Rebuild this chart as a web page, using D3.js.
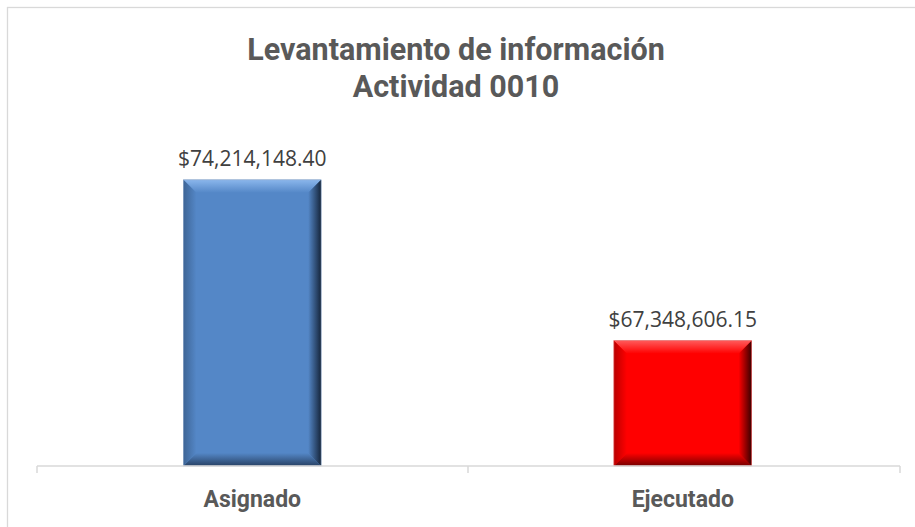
<!DOCTYPE html>
<html>
<head>
<meta charset="utf-8">
<script src="https://cdn.jsdelivr.net/npm/d3@7"></script>
<style>
  body { margin: 0; background: #fff; }
  svg { display: block; }
</style>
</head>
<body>
<script>
var width = 915, height = 527;

// data
var categories = ["Asignado", "Ejecutado"];
var values = [74214148.40, 67348606.15];
var titleLines = ["Levantamiento de información", "Actividad 0010"];

// All things colors
var baseColors = ["#5487c7", "#ff0000"];
var lightColors = ["#8ab6ec", "#ff5a5a"];
var darkColors = ["#15253b", "#3a0000"];

var svg = d3.select("body").append("svg")
    .attr("width", width)
    .attr("height", height);

var defs = svg.append("defs");

// chart frame
svg.append("rect")
    .attr("x", 7.5).attr("y", 7.5)
    .attr("width", 940).attr("height", 560)
    .style("fill", "#fff")
    .style("stroke", "#d9d9d9")
    .style("stroke-width", 1.3);

var xScale = d3.scaleBand()
    .domain(categories)
    .range([37, 898])
    .paddingInner(0.68)
    .paddingOuter(0.34);

var yScale = d3.scaleLinear()
    .domain([62000000, 76000000])
    .range([466, 138]);

var fmt = function(v) { return "$" + d3.format(",.2f")(v); };

// title
svg.append("g").selectAll("text")
    .data(titleLines)
    .enter().append("text")
        .attr("x", 456)
        .attr("y", function(d, i) { return 60 + i * 37; })
        .attr("text-anchor", "middle")
        .style("font-family", "Roboto")
        .style("font-weight", "bold")
        .style("font-size", "30.5px")
        .style("fill", "#595959")
        .text(function(d) { return d; });

// gradients for the bevel
function grad(id, x1, y1, x2, y2, c1, c2) {
    var g = defs.append("linearGradient").attr("id", id)
        .attr("x1", x1).attr("y1", y1).attr("x2", x2).attr("y2", y2);
    g.append("stop").attr("offset", "0%").attr("stop-color", c1);
    g.append("stop").attr("offset", "100%").attr("stop-color", c2);
}
baseColors.forEach(function(c, i) {
    grad("top" + i, 0, 0, 0, 1, lightColors[i], c);
    grad("bot" + i, 0, 0, 0, 1, c, d3.interpolateRgb(c, darkColors[i])(0.7));
    grad("lef" + i, 0, 0, 1, 0, d3.interpolateRgb(c, darkColors[i])(0.35), c);
    grad("rig" + i, 0, 0, 1, 0, c, darkColors[i]);
});

var bv = 13;
var bars = svg.selectAll(".bar")
    .data(values)
    .enter().append("g")
        .attr("class", "bar");

bars.append("rect")
    .attr("x", function(d, i) { return xScale(categories[i]); })
    .attr("y", function(d) { return yScale(d); })
    .attr("width", xScale.bandwidth())
    .attr("height", function(d) { return yScale.range()[0] - yScale(d); })
    .style("fill", function(d, i) { return baseColors[i]; });

bars.each(function(d, i) {
    var x0 = xScale(categories[i]), x1 = x0 + xScale.bandwidth();
    var y0 = yScale(d), y1 = yScale.range()[0];
    var g = d3.select(this);
    var pts = {
        top: [[x0, y0], [x1, y0], [x1 - bv, y0 + bv], [x0 + bv, y0 + bv]],
        bot: [[x0 + bv, y1 - bv], [x1 - bv, y1 - bv], [x1, y1], [x0, y1]],
        lef: [[x0, y0], [x0 + bv, y0 + bv], [x0 + bv, y1 - bv], [x0, y1]],
        rig: [[x1 - bv, y0 + bv], [x1, y0], [x1, y1], [x1 - bv, y1 - bv]]
    };
    Object.keys(pts).forEach(function(k) {
        g.append("polygon")
            .attr("points", pts[k].map(function(p) { return p.join(","); }).join(" "))
            .style("fill", "url(#" + k + i + ")");
    });
    g.append("rect")
        .attr("x", x0).attr("y", y0)
        .attr("width", x1 - x0).attr("height", y1 - y0)
        .style("fill", "none")
        .style("stroke", i == 0 ? "#8fa6c4" : "#e07070")
        .style("stroke-width", 0.6);
});

// value labels
svg.selectAll(".label")
    .data(values)
    .enter().append("text")
        .attr("class", "label")
        .attr("x", function(d, i) { return xScale(categories[i]) + xScale.bandwidth() / 2; })
        .attr("y", function(d) { return yScale(d) - 14; })
        .attr("text-anchor", "middle")
        .style("font-family", "Open Sans")
        .style("font-size", "21px")
        .style("fill", "#404040")
        .text(fmt);

// x axis
var axis = svg.append("g")
    .attr("transform", "translate(0,466)")
    .call(d3.axisBottom(xScale).tickSize(0).tickPadding(25));
axis.select(".domain").remove();
axis.selectAll("text")
    .style("font-family", "Roboto")
    .style("font-weight", "bold")
    .style("font-size", "23px")
    .style("fill", "#595959");

var edges = [37, 468, 900];
axis.append("line")
    .attr("x1", 37).attr("x2", 900)
    .attr("y1", 0).attr("y2", 0)
    .style("stroke", "#d9d9d9").style("stroke-width", 1.5);
axis.selectAll(".edge")
    .data(edges)
    .enter().append("line")
        .attr("class", "edge")
        .attr("x1", d => d).attr("x2", d => d)
        .attr("y1", 0).attr("y2", 7)
        .style("stroke", "#d9d9d9").style("stroke-width", 1.5);
</script>
</body>
</html>
